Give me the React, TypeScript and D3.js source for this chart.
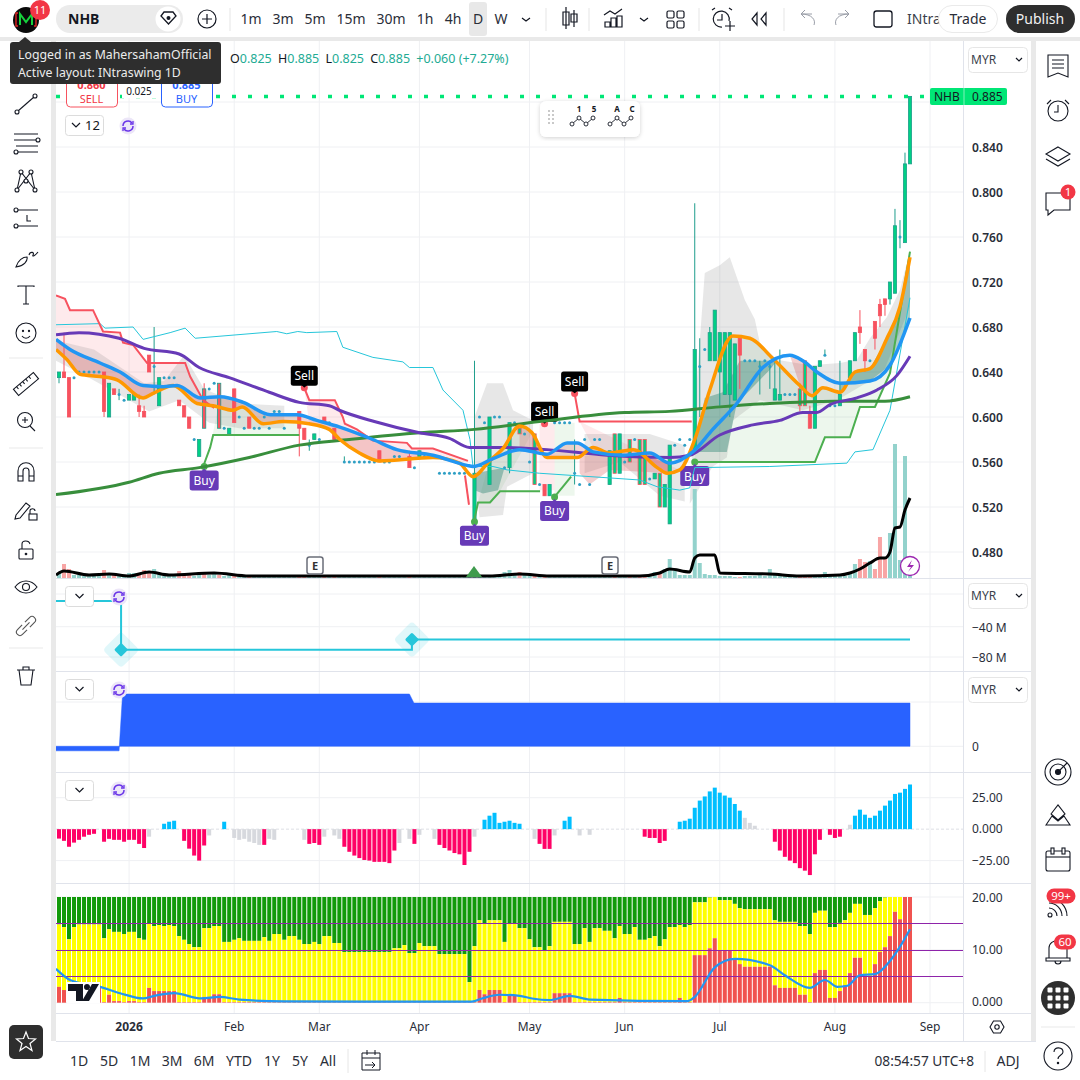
import * as d3 from 'd3';

// candles: [bar, open, high, low, close]
const bars: number[][] = [
  [0, 0.635, 0.64, 0.63, 0.64], [1, 0.64, 0.675, 0.635, 0.635], [2, 0.635, 0.635, 0.6, 0.6],
  [9, 0.64, 0.64, 0.6, 0.605], [10, 0.6, 0.63, 0.6, 0.63], [11, 0.625, 0.625, 0.62, 0.62],
  [14, 0.615, 0.62, 0.615, 0.62], [15, 0.615, 0.62, 0.615, 0.62], [16, 0.61, 0.62, 0.6, 0.605],
  [17, 0.605, 0.61, 0.6, 0.6], [18, 0.655, 0.655, 0.64, 0.64], [20, 0.61, 0.635, 0.61, 0.635],
  [24, 0.615, 0.615, 0.61, 0.61], [25, 0.61, 0.61, 0.6, 0.6], [26, 0.6, 0.6, 0.59, 0.59],
  [28, 0.565, 0.58, 0.565, 0.58], [29, 0.625, 0.63, 0.59, 0.59], [32, 0.63, 0.63, 0.59, 0.59],
  [34, 0.585, 0.59, 0.585, 0.59], [35, 0.625, 0.625, 0.595, 0.595], [38, 0.6, 0.6, 0.59, 0.59],
  [48, 0.605, 0.605, 0.565, 0.59], [49, 0.59, 0.59, 0.58, 0.58], [51, 0.58, 0.585, 0.58, 0.585],
  [53, 0.6, 0.6, 0.595, 0.595], [55, 0.59, 0.59, 0.58, 0.58], [64, 0.57, 0.57, 0.56, 0.56],
  [70, 0.565, 0.57, 0.555, 0.555], [72, 0.565, 0.57, 0.565, 0.57], [83, 0.505, 0.65, 0.505, 0.55],
  [86, 0.54, 0.6, 0.54, 0.6], [90, 0.555, 0.595, 0.55, 0.595], [92, 0.59, 0.59, 0.585, 0.585],
  [95, 0.585, 0.585, 0.54, 0.54], [97, 0.54, 0.54, 0.53, 0.53], [98, 0.53, 0.54, 0.53, 0.54],
  [110, 0.54, 0.57, 0.54, 0.57], [111, 0.585, 0.585, 0.55, 0.55], [112, 0.55, 0.585, 0.55, 0.585],
  [114, 0.58, 0.58, 0.56, 0.56], [116, 0.58, 0.58, 0.54, 0.54], [117, 0.58, 0.58, 0.54, 0.54],
  [119, 0.545, 0.55, 0.545, 0.55], [120, 0.55, 0.55, 0.52, 0.52], [121, 0.52, 0.54, 0.52, 0.54],
  [122, 0.505, 0.575, 0.505, 0.575], [127, 0.57, 0.79, 0.57, 0.66], [130, 0.65, 0.68, 0.65, 0.675],
  [131, 0.65, 0.695, 0.65, 0.695], [132, 0.64, 0.675, 0.61, 0.675], [133, 0.62, 0.675, 0.62, 0.675],
  [134, 0.62, 0.675, 0.6, 0.675], [135, 0.615, 0.665, 0.615, 0.665], [136, 0.67, 0.67, 0.625, 0.655],
  [143, 0.615, 0.65, 0.615, 0.625], [144, 0.615, 0.66, 0.615, 0.62], [148, 0.625, 0.63, 0.605, 0.61],
  [149, 0.65, 0.65, 0.61, 0.61], [150, 0.605, 0.61, 0.59, 0.59], [151, 0.59, 0.645, 0.59, 0.645],
  [152, 0.645, 0.65, 0.645, 0.65], [156, 0.61, 0.65, 0.61, 0.62], [158, 0.635, 0.65, 0.635, 0.65],
  [159, 0.65, 0.675, 0.65, 0.675], [160, 0.68, 0.695, 0.665, 0.675], [161, 0.66, 0.66, 0.64, 0.65],
  [163, 0.685, 0.685, 0.66, 0.67], [164, 0.7, 0.705, 0.68, 0.69], [165, 0.705, 0.705, 0.69, 0.7],
  [166, 0.705, 0.72, 0.7, 0.72], [167, 0.71, 0.785, 0.71, 0.77], [169, 0.755, 0.835, 0.755, 0.825],
  [170, 0.825, 0.885, 0.825, 0.885],
];
// green body with a red edge / red body with a teal edge
const redEdged = [92, 95, 111, 114, 116, 117, 120, 148, 149];
const tealEdged = [29, 32];

// doji bars shown as small dots: [bar, close, high, low]
const dojis: number[][] = [
  [3, 0.635], [4, 0.64], [5, 0.64], [6, 0.64], [7, 0.64], [8, 0.64], [12, 0.62, 0.625, 0.615], [13, 0.615],
  [19, 0.645, 0.68, 0.62], [21, 0.635], [22, 0.635], [23, 0.635], [27, 0.58], [30, 0.625], [31, 0.63], [33, 0.59],
  [36, 0.6], [37, 0.59], [39, 0.59], [40, 0.59], [41, 0.6], [42, 0.59], [43, 0.605], [44, 0.605], [45, 0.59],
  [50, 0.575, 0.58, 0.57], [52, 0.58], [54, 0.595], [56, 0.58], [57, 0.56, 0.565, 0.56], [58, 0.56], [59, 0.56],
  [60, 0.56], [61, 0.56], [62, 0.56], [63, 0.56], [65, 0.56], [66, 0.56], [67, 0.565], [68, 0.565], [71, 0.555],
  [73, 0.565], [74, 0.565], [75, 0.565], [76, 0.55], [77, 0.55], [78, 0.55], [79, 0.55], [80, 0.55], [81, 0.55],
  [82, 0.495], [84, 0.6], [85, 0.595], [87, 0.6], [88, 0.6], [89, 0.555], [91, 0.595], [93, 0.585], [94, 0.56],
  [96, 0.54], [99, 0.595], [100, 0.595], [101, 0.595], [102, 0.595], [103, 0.55, 0.58, 0.54], [104, 0.54],
  [105, 0.58], [106, 0.54], [107, 0.58], [108, 0.58], [113, 0.56], [115, 0.58], [118, 0.545], [123, 0.575],
  [124, 0.58], [125, 0.575], [126, 0.58], [128, 0.645, 0.67, 0.6], [129, 0.66], [137, 0.65], [138, 0.65],
  [139, 0.65], [140, 0.645, 0.65, 0.62], [141, 0.65], [142, 0.645, 0.65, 0.625], [145, 0.62], [146, 0.62],
  [147, 0.62], [153, 0.655, 0.66, 0.655], [154, 0.61], [155, 0.61], [157, 0.63], [162, 0.65], [168, 0.76, 0.775, 0.75],
];

const volumes = [
  5, 14, 9, 3, 3, 2, 3, 2, 3, 8, 4, 5, 2, 2, 5, 5, 4, 8, 6, 9, 5, 2, 2, 3, 7, 3, 3, 2, 6, 6,
  3, 4, 3, 2, 3, 2, 2, 2, 2, 1, 2, 1, 2, 1, 1, 1, 1, 1, 2, 2, 1, 1, 2, 2, 1, 1, 1, 2, 1, 1,
  1, 1, 1, 1, 2, 1, 1, 1, 2, 1, 2, 1, 1, 1, 1, 1, 1, 1, 1, 1, 1, 1, 1, 1, 2, 1, 1, 1, 3, 6,
  8, 4, 6, 3, 2, 2, 2, 2, 2, 1, 1, 1, 1, 1, 1, 1, 1, 1, 1, 1, 2, 2, 1, 1, 1, 1, 1, 1, 4, 6,
  5, 9, 19, 9, 3, 3, 3, 89, 15, 4, 3, 3, 2, 2, 2, 1, 1, 2, 2, 2, 4, 2, 9, 4, 3,
  2, 1, 1, 2, 3, 2, 1, 2, 6, 3, 2, 2, 2, 5, 14, 19, 16, 17, 9, 41, 19, 45, 134, 18, 122, 4,
];
const volumeAvg: number[][] = [
  [-0.6, 3], [1, 7], [6, 3], [10, 4], [14, 2], [18, 6], [22, 3], [31, 5], [38, 2], [86, 2], [92, 4], [98, 2], [116, 2],
  [120, 5], [122, 9], [126, 6], [127, 20], [128, 23], [131, 23], [132, 5], [142, 4], [148, 2], [156, 3], [158, 5], [160, 9],
  [162, 15], [164, 20], [165, 20], [166, 26], [167, 50], [168, 51], [169, 68], [170, 80],
];

const emaSlow: number[][] = [
  [-0.6, 0.531], [14, 0.542], [20, 0.55], [28, 0.555], [38, 0.564], [48, 0.575], [58, 0.58], [72, 0.586],
  [83, 0.589], [96, 0.596], [113, 0.604], [122, 0.605], [132, 0.609], [142, 0.612], [155, 0.614], [165, 0.614], [170, 0.618],
];
const emaPurple: number[][] = [
  [-0.6, 0.673], [4, 0.675], [12, 0.67], [17, 0.661], [24, 0.656], [28, 0.644], [34, 0.635], [42, 0.622], [48, 0.613],
  [54, 0.61], [56, 0.606], [63, 0.596], [72, 0.586], [78, 0.581], [82, 0.573], [89.5, 0.573], [97.5, 0.571], [109.5, 0.566],
  [122, 0.564], [126, 0.566], [132, 0.584], [138.6, 0.593], [144, 0.597], [148.6, 0.604], [151.4, 0.604], [154, 0.611],
  [159.4, 0.617], [163.4, 0.624], [167.4, 0.637], [170, 0.654],
];
const emaBlue: number[][] = [
  [-0.6, 0.669], [2.2, 0.66], [8.2, 0.648], [12.2, 0.64], [16.8, 0.628], [20.8, 0.627], [23.6, 0.628], [28.2, 0.617],
  [32.2, 0.618], [36.8, 0.613], [42.2, 0.602], [47.5, 0.602], [51.5, 0.597], [56.1, 0.591], [62.7, 0.58], [67.5, 0.571],
  [74.7, 0.566], [81.5, 0.557], [82.7, 0.556], [86.7, 0.563], [92, 0.571], [97.5, 0.567], [101.5, 0.577], [103.5, 0.577],
  [106.7, 0.569], [112.7, 0.566], [118, 0.568], [122, 0.559], [126.6, 0.569], [130.6, 0.589], [135.4, 0.612], [140.6, 0.644],
  [146, 0.655], [148.6, 0.65], [151.4, 0.64], [156, 0.63], [162, 0.632], [166, 0.646], [170, 0.688],
];
const emaOrange: number[][] = [
  [-0.6, 0.66], [1.6, 0.651], [4.2, 0.638], [8.2, 0.636], [11.6, 0.633], [16.8, 0.617], [18.8, 0.621], [22.8, 0.628],
  [27.6, 0.612], [30.8, 0.61], [34.8, 0.606], [36.6, 0.609], [40.8, 0.594], [44.8, 0.596], [50, 0.594], [54, 0.589],
  [56.1, 0.58], [60, 0.568], [64, 0.561], [74.7, 0.564], [80, 0.559], [82.7, 0.547], [86, 0.561], [88.7, 0.572], [92, 0.592],
  [94.5, 0.586], [97.5, 0.564], [103.5, 0.564], [106.7, 0.573], [110, 0.568], [114.7, 0.571], [119.5, 0.555], [121.5, 0.55],
  [124, 0.553], [127, 0.58], [130, 0.624], [134.6, 0.672], [138, 0.67], [142.6, 0.652], [148, 0.628], [150.4, 0.619],
  [152.6, 0.626], [156, 0.622], [159, 0.64], [162, 0.643], [165.4, 0.67], [168, 0.698], [170, 0.742],
];

const redStops: number[][][] = [
  [[-0.6, 0.708], [1.2, 0.705], [2.2, 0.695], [6.8, 0.695], [8.8, 0.676], [12.2, 0.675], [12.8, 0.666], [14.8, 0.664],
    [17.6, 0.648], [25.2, 0.648], [26.2, 0.636], [28.8, 0.615], [31, 0.608]],
  [[49, 0.626], [50, 0.615], [55.1, 0.615], [56.7, 0.6], [57.1, 0.594], [59.5, 0.589], [62.7, 0.579], [69.5, 0.577],
    [70.5, 0.572], [74.7, 0.572], [81.7, 0.561]],
  [[81.1, 0.548], [81.9, 0.522]],
  [[103, 0.621], [104, 0.596], [126.4, 0.596]],
];
const greenStops: number[][][] = [
  [[28.8, 0.556], [30.2, 0.573], [30.8, 0.584], [48, 0.584]],
  [[82.9, 0.507], [83.7, 0.524], [86.1, 0.524], [88.1, 0.534], [96.1, 0.534]],
  [[99, 0.529], [102.3, 0.547]],
  [[127, 0.56], [151, 0.56], [153, 0.582], [158, 0.582], [160, 0.609], [163, 0.609], [166, 0.639], [170, 0.747]],
];
const trailBand: number[][] = [
  [-0.6, 0.682], [8.2, 0.683], [9.2, 0.679], [14.8, 0.68], [16.8, 0.669], [22.2, 0.675], [25.2, 0.679], [27.2, 0.67],
  [43.5, 0.676], [45.5, 0.674], [47.7, 0.676], [49.5, 0.675], [55.5, 0.676], [56.7, 0.662], [62.7, 0.653], [68.7, 0.649],
  [70, 0.644], [74.7, 0.644], [76.7, 0.624], [80.7, 0.606], [82.1, 0.58], [82.7, 0.556], [86.7, 0.556], [89.5, 0.553],
  [96, 0.55], [109.5, 0.546], [116, 0.544], [119.5, 0.538], [124, 0.535], [126, 0.537], [127, 0.555], [142, 0.556],
  [157.4, 0.559], [159, 0.569], [162.6, 0.571], [166, 0.606], [168.6, 0.671], [170, 0.706],
];

// cloud outlines
const grayClouds: number[][][] = [
  [[-0.6, 0.668], [7, 0.66], [17, 0.63], [21, 0.632], [25, 0.655], [29, 0.625], [36, 0.612], [45, 0.61], [45, 0.59], [36, 0.59],
    [30, 0.595], [24, 0.615], [18, 0.605], [12, 0.62], [6, 0.635], [-0.6, 0.65]],
  [[83, 0.6], [85.5, 0.63], [88.7, 0.63], [90.7, 0.606], [94.7, 0.597], [94.7, 0.55], [89.5, 0.538], [88.7, 0.513], [84, 0.511], [83, 0.55]],
  [[105, 0.585], [118, 0.585], [125, 0.575], [125, 0.525], [120, 0.53], [112, 0.56], [105, 0.55]],
  [[126.6, 0.582], [129, 0.728], [132, 0.735], [134, 0.742], [137, 0.704], [139, 0.687], [140, 0.666], [143.4, 0.651], [150, 0.646],
    [156, 0.648], [159.4, 0.651], [162, 0.67], [165.4, 0.689], [168, 0.713], [170, 0.748], [170, 0.698], [164.6, 0.639], [155.4, 0.615],
    [148.6, 0.606], [140, 0.615], [134.6, 0.597], [133.4, 0.564], [130.6, 0.556], [126, 0.523]],
];
const tealClouds: number[][][] = [
  [[126.6, 0.569], [129, 0.617], [132.6, 0.622], [136, 0.65], [143.4, 0.65], [142, 0.642], [135.4, 0.612], [133.4, 0.569]],
  [[83, 0.55], [89, 0.555], [87.7, 0.535], [84.7, 0.532], [83, 0.535]],
];
const redClouds: number[][][] = [
  [[104, 0.566], [110, 0.566], [117, 0.566], [122, 0.558], [122, 0.55], [110, 0.553], [106, 0.54], [104, 0.55]],
];
const palePink: number[][][] = [[[96, 0.595], [99, 0.595], [99, 0.535], [96, 0.535]]];
const paleGreen: number[][][] = [[[99, 0.595], [103, 0.595], [103, 0.53], [99, 0.53]]];

// signal labels: [bar, price, text]
const signals: [number, number, string][] = [
  [29, 0.556, 'Buy'], [83, 0.507, 'Buy'], [99, 0.529, 'Buy'], [127, 0.56, 'Buy'],
  [49, 0.626, 'Sell'], [97, 0.594, 'Sell'], [103, 0.621, 'Sell'],
];

const priceTicks = [0.88, 0.84, 0.8, 0.76, 0.72, 0.68, 0.64, 0.6, 0.56, 0.52, 0.48];
const priceLabels = ['0.840', '0.800', '0.760', '0.720', '0.680', '0.640', '0.600', '0.560', '0.520', '0.480'];
const monthBars = [14, 35, 52, 72, 94, 113, 132, 155, 174];
const monthLabels = ['2026', 'Feb', 'Mar', 'Apr', 'May', 'Jun', 'Jul', 'Aug', 'Sep'];

// net flow step line, millions
const flowSteps: number[][] = [[-1, -6], [12.4, -70.5], [70.5, -57], [170, -57]];
const flowMarks: number[][] = [[12.4, -70.5], [70.5, -57]];
// blue area, millions
const stockArea: number[][] = [[-1, -4.5], [12, -4.5], [12.7, 52], [70, 52], [70.9, 43], [170, 43]];

const histRed: number[][] = [
  [0, -7.5], [1, -9.3], [2, -14], [3, -10.7], [4, -8.5], [5, -6], [6, -4.5], [7, -3.7], [9, -10], [10, -7.7], [11, -8.5], [12, -8.5],
  [13, -10], [14, -8.5], [15, -8.5], [16, -11.7], [17, -15], [25, -9.3], [26, -15.5], [27, -21], [28, -25], [29, -13], [41, -12.5],
  [50, -11.7], [51, -11], [52, -12.5], [57, -14], [58, -18], [59, -21], [60, -23], [61, -24.5], [62, -25], [63, -26], [64, -26],
  [65, -26], [66, -27], [67, -17], [71, -11.7], [76, -12.5], [77, -15], [78, -17], [79, -19], [80, -20], [81, -28.5], [82, -18],
  [96, -11.7], [97, -15.7], [98, -15.7], [117, -6], [118, -7], [119, -7], [120, -11], [121, -9.3], [143, -10], [144, -17], [145, -22],
  [146, -25], [147, -27], [148, -31], [149, -33], [150, -36.5], [151, -20], [152, -8.5], [154, -4.5], [155, -7], [156, -6],
];
const histBlue: number[][] = [
  [21, 4.3], [22, 5.9], [23, 6.7], [33, 5.9], [85, 7.5], [86, 10.7], [87, 13], [88, 5], [89, 5.9], [90, 6.7], [91, 5], [92, 4.3],
  [101, 6.7], [102, 9.9], [124, 5.9], [125, 6.7], [126, 8.3], [127, 17], [128, 22.7], [129, 26], [130, 30], [131, 33], [132, 29],
  [133, 26.7], [134, 25], [135, 20], [136, 14.7], [159, 10.7], [160, 15.5], [161, 11.5], [162, 9], [163, 10.7], [164, 14.7],
  [165, 18.7], [166, 22.7], [167, 28], [168, 29], [169, 32], [170, 35.5],
];
const histGray: number[][] = [
  [18, -6], [30, -5], [35, -7], [36, -8.5], [37, -7.7], [38, -10], [39, -11], [40, -12.5], [42, -7.7], [43, -8.5], [49, -8.5], [53, -6],
  [55, -5], [56, -7.7], [68, -11], [70, -7.7], [72, -4.5], [75, -7.7], [83, -6], [95, -7.7], [99, -5], [104, -5], [106, -4.5],
  [137, 9], [138, 5], [139, 2.7], [158, 3.5],
];

const yellowTop = [
  14.8, 14.3, 12, 14.3, 14.8, 14.8, 14.8, 14.8, 14.8, 12.2, 13.9, 13.4, 13.4, 13, 13.4, 13.4, 12.2, 11.9, 14.9, 14.5, 14.7, 14.5, 14.7, 14.5,
  12.6, 11.9, 11.1, 10.5, 10.5, 14.1, 14.1, 14.5, 14.5, 11.5, 11.5, 11.9, 12.2, 11.7, 11.7, 11.7, 11.7, 12.4, 11.7, 13, 13, 11.9, 12.6, 12.6,
  11.9, 11.1, 11.1, 11.5, 11.1, 12.6, 12.6, 11.3, 11.3, 9.6, 9.6, 9.6, 9.6, 9.6, 9.6, 9.6, 9.6, 9.6, 9.6, 10.3, 10.3, 10.9, 9.4, 9.4, 11.3,
  10.7, 10.7, 10.7, 9.2, 9.2, 9.2, 9.2, 9.2, 9.2, 3.9, 10.7, 15.6, 14.9, 15.6, 15.6, 15.6, 11.5, 14.9, 14.9, 14.1, 14.1, 12,
  10.5, 10.5, 9.8, 10.7, 15.3, 15.3, 15.3, 15.3, 11.1, 11.1, 14.1, 11.5, 14.1, 14.1, 13.6, 13.6, 12.2, 14.5, 13, 13, 14.3, 11.9, 11.9, 12.2,
  12.6, 10.7, 12, 14.3, 14.3, 14.7, 14.3, 14.7, 19, 19, 19, 19.9, 20, 19.4, 19.4, 19.4, 18.7, 17.9, 17.7, 17.7, 17.7, 17.7, 17.7, 17.7, 15.6,
  15.3, 15.3, 15.3, 15.3, 14.5, 14.5, 13, 17, 17.4, 17.4, 14.3, 14.3, 15.1, 15.6, 17, 18.7, 18.7, 16.6, 16.6, 17.9, 19.2, 19.9, 20, 20, 20, 20, 20,
];
const redTop = [
  3, 2.4, 0.1, 0.3, 0.3, 0.3, 0.3, 0.3, 3, 0.1, 1.5, 0.3, 0.3, 0.1, 0.3, 0.3, 0.1, 0.1, 2.8, 2.2, 2.2, 2.2, 2.2, 2.2, 0.1, 0.1, 0.1, 0.1, 0.1,
  1.1, 1.1, 1.6, 1.6, 0.1, 0.1, 0.1, 0.1, 0.1, 0.1, 0.1, 0.1, 0.1, 0.1, 0.1, 0.1, 0.1, 0.1, 0.1, 0.1, 0.1, 0.1, 0.1, 0.1, 0.1, 0.1, 0.1, 0.1, 0.1,
  0.1, 0.1, 0.1, 0.1, 0.1, 0.1, 0.1, 0.1, 0.1, 0.1, 0.1, 0.1, 0.1, 0.1, 0.1, 0.1, 0.1, 0.1, 0.1, 0.1, 0.1, 0.1, 0.1, 0.1, 0.1, 0.1,
  2.4, 1.6, 2.4, 2.4, 2.4, 0.1, 1.3, 1.3, 0.1, 0.1, 0.1, 0.1, 0.1, 0.1, 0.1, 1.8, 1.8, 1.8, 1.8, 0.1, 0.1, 0.1, 0.1, 0.1, 0.1, 0.1, 0.1, 0.1,
  0.9, 0.1, 0.1, 0.1, 0.1, 0.1, 0.1, 0.1, 0.1, 0.1, 0.1, 0.1, 0.9, 0.1, 0.1, 9, 9, 9, 10.3, 12.2, 9.8, 9.8, 9.8, 8.3, 7.3, 6.8, 6.8, 6.8, 6.8, 6.8,
  6.8, 3.3, 2.8, 2.8, 2.8, 2.8, 1.5, 1.5, 0.1, 5.6, 6.2, 6.2, 0.9, 0.9, 2.2, 3.3, 5.6, 8.5, 8.5, 5, 5, 7.3, 9.6, 10.5, 12.6, 17.2, 15.8, 20, 20,
];
const rsiBlue: number[][] = [
  [-0.6, 6.4], [2.2, 4.3], [8.2, 3], [12.2, 1.8], [16.8, 0.8], [19, 1.3], [23, 1.8], [28.5, 0.8], [32, 1.1], [36, 0.6], [45, 0.25], [82.5, 0.2],
  [84.5, 0.8], [88, 1.5], [92, 1.3], [94.5, 0.8], [98, 0.5], [102, 1.3], [106, 0.6], [125.5, 0.3], [127, 1.1], [131, 6.7], [135, 8.3], [142, 7.1],
  [145, 5.2], [150, 2.8], [153, 4.3], [155.5, 3], [157.5, 3.2], [160, 5.2], [163, 5.4], [166, 7.9], [168, 10.6], [170, 13.9],
];
const zoneLevels = [5, 10, 15];

const rangeButtons = ['1D', '5D', '1M', '3M', '6M', 'YTD', '1Y', '5Y', 'All'];
const intervalButtons = ['1m', '3m', '5m', '15m', '30m', '1h', '4h', 'D', 'W'];

const FONT = '"Noto Sans", sans-serif';
const GRID = '#eff0f3';
const EDGE = '#e0e3eb';
const INK = '#131722';
const TEAL = '#22ab94';

const x = d3.scaleLinear().domain([0, 170]).range([59, 910]);
const yPrice = d3.scaleLinear().domain([0.48, 0.84]).range([552, 147]);
const yVol = d3.scaleLinear().domain([0, 134]).range([578, 444]);
const yFlow = d3.scaleLinear().domain([-80, -40]).range([657, 626.7]);
const yStock = d3.scaleLinear().domain([0, 52]).range([746.3, 694]);
const yHist = d3.scaleLinear().domain([-25, 25]).range([860.6, 797.7]);
const yZone = d3.scaleLinear().domain([0, 20]).range([1002.7, 897]);

const priceLine = d3.line<number[]>().x((d) => x(d[0])).y((d) => yPrice(d[1]));
const smoothPrice = d3.line<number[]>().x((d) => x(d[0])).y((d) => yPrice(d[1])).curve(d3.curveMonotoneX);
const volLine = d3.line<number[]>().x((d) => x(d[0])).y((d) => yVol(d[1])).curve(d3.curveMonotoneX);
const flowLine = d3.line<number[]>().x((d) => x(d[0])).y((d) => yFlow(d[1])).curve(d3.curveStepAfter);
const stockShape = d3.area<number[]>().x((d) => x(d[0])).y0(yStock(0)).y1((d) => yStock(d[1]));
const zoneLine = d3.line<number[]>().x((d) => x(d[0])).y((d) => yZone(d[1])).curve(d3.curveMonotoneX);

// area between two knot lists over a bar range
function band(top: number[][], bottom: number[][], from: number, to: number) {
  const a = top.filter((d) => d[0] >= from && d[0] <= to);
  const b = bottom.filter((d) => d[0] >= from && d[0] <= to).reverse();
  return priceLine([...a, ...b]) + 'Z';
}

function Chevron({ cx, cy }: { cx: number; cy: number }) {
  return <path d={`M${cx - 4} ${cy - 2}l4 4l4 -4`} fill="none" stroke={INK} strokeWidth={1.2} />;
}

function Sync({ cx, cy }: { cx: number; cy: number }) {
  return (
    <g>
      <circle cx={cx} cy={cy} r={8.5} fill="#ece6f8" />
      <path d={`M${cx - 5} ${cy}a5 5 0 0 1 9 -3M${cx + 5} ${cy}a5 5 0 0 1 -9 3`} fill="none" stroke="#6a35e8" strokeWidth={1.5} />
      <path d={`M${cx + 5} ${cy - 5}v3h-3M${cx - 5} ${cy + 5}v-3h3`} fill="none" stroke="#6a35e8" strokeWidth={1.3} />
    </g>
  );
}

function SmallButton({ y, label }: { y: number; label?: string }) {
  const w = label ? 38 : 28;
  return (
    <g>
      <rect x={65.5} y={y + 0.5} width={w} height={20} rx={3} fill="#fff" stroke="#dcdcdc" />
      <Chevron cx={label ? 76 : 79.5} cy={y + 10} />
      {label && <text x={85} y={y + 15} fontSize={13} fill={INK}>{label}</text>}
    </g>
  );
}

function CurrencyBox({ y }: { y: number }) {
  return (
    <g>
      <rect x={968.5} y={y + 0.5} width={59} height={25} rx={4} fill="#fff" stroke="#e6e6e6" />
      <text x={971} y={y + 17} fontSize={12} fill="#3a3f4c">MYR</text>
      <path d={`M1016 ${y + 11}l3 3l3 -3`} fill="none" stroke={INK} strokeWidth={1.2} />
    </g>
  );
}

function LeftTools() {
  const s = { fill: 'none', stroke: INK, strokeWidth: 1.1 };
  return (
    <g {...s}>
      <g transform="translate(26,104)"><path d="M-8 7L8 -7" /><circle cx={-9} cy={8} r={2} fill="#fff" /><circle cx={9} cy={-8} r={2} fill="#fff" /></g>
      <g transform="translate(26,143)"><path d="M-12 -9H12M-12 -3H10M-10 3H12M-8 9H12" /><circle cx={12} cy={-3} r={2} fill="#fff" /><circle cx={-10} cy={9} r={2} fill="#fff" /></g>
      <g transform="translate(26,181)"><path d="M-9 9L-5 -9L9 9L5 -9L-9 9" /><circle cx={-9} cy={9} r={2} fill="#fff" /><circle cx={-5} cy={-9} r={2} fill="#fff" /><circle cx={5} cy={-9} r={2} fill="#fff" /><circle cx={9} cy={9} r={2} fill="#fff" /><circle cx={0} cy={0} r={2} fill="#fff" /></g>
      <g transform="translate(26,219)"><path d="M-8 -9H12M-8 7H12M-12 7H-10M1 -4V2H5" /><circle cx={-10} cy={-9} r={2} fill="#fff" /><circle cx={-10} cy={7} r={2} fill="#fff" /></g>
      <g transform="translate(26,258)"><path d="M-10 9C-8 2 -3 -1 1 -1C2 3 -2 8 -10 9ZM3 -3C4 -7 9 -6 7 -3C6 -1 9 -2 12 -6" /></g>
      <g transform="translate(26,295)"><path d="M-8 -8V-9H8V-8M0 -9V9M-3 9H3" /></g>
      <g transform="translate(26,333)"><circle r={10} /><path d="M-4 3C-2 6 2 6 4 3" /><circle cx={-3} cy={-2} r={0.6} /><circle cx={3} cy={-2} r={0.6} /></g>
      <path d="M9 358H43M9 448H43M9 648H43" stroke="#eaeaea" />
      <g transform="translate(26,384) rotate(-40)"><rect x={-13} y={-4} width={26} height={8} /><path d="M-9 -4v3M-5 -4v3M-1 -4v3M3 -4v3M7 -4v3" /></g>
      <g transform="translate(26,421)"><circle cx={-1} cy={-1} r={7.5} /><path d="M4 5L9 10M-4 -1H2M-1 -4V2" /></g>
      <g transform="translate(26,472)"><path d="M-8 9V-1C-8 -12 8 -12 8 -1V9H3V-1C3 -5 -3 -5 -3 -1V9ZM-8 4H-3M3 4H8" /></g>
      <g transform="translate(26,511)"><path d="M-10 4L0 -8L4 -5L-6 7L-11 8Z" /><rect x={3} y={3} width={8} height={6} /><path d="M4 3V0C4 -3 9 -3 9 0" /></g>
      <g transform="translate(26,549)"><rect x={-7} y={0} width={14} height={10} rx={1} /><path d="M-4 0V-5C-4 -9 3 -9 4 -5" /><circle cy={5} r={0.8} fill={INK} /></g>
      <g transform="translate(26,587)"><path d="M-11 0C-5 -8 5 -8 11 0C5 8 -5 8 -11 0Z" /><circle r={3.5} /></g>
      <g transform="translate(26,626) rotate(-45)" stroke="#555"><path d="M-2 -3.500H-8.500A3.500 3.500 0 0 0 -8.500 3.500H-2M2 -3.500H8.500A3.500 3.500 0 0 1 8.500 3.500H2M-5 0H5" /></g>
      <g transform="translate(26,676)"><path d="M-9 -6H9M-7 -6L-5 9H5L7 -6M-3 -6V-9H3V-6" /></g>
    </g>
  );
}

function RightTools() {
  const s = { fill: 'none', stroke: INK, strokeWidth: 1.1 };
  return (
    <g {...s}>
      <g transform="translate(1058,66)"><path d="M-10 -11H10V11L0 7L-10 11ZM-6 -6H6M-6 -2H6M-6 2H6" /></g>
      <g transform="translate(1058,111)"><circle r={10} /><path d="M0 -6V1H-4M-11 -7L-7 -11M11 -7L7 -11" /></g>
      <g transform="translate(1058,157)"><path d="M0 -10L12 -3L0 4L-12 -3ZM-12 2L0 9L12 2" /></g>
      <g transform="translate(1058,203)"><path d="M-12 -10H12V7H-4L-10 12V7H-12Z" /></g>
      <g transform="translate(1058,772)"><circle r={13} /><circle r={8} /><circle r={2.5} fill={INK} /><path d="M0 0L9 -9" /></g>
      <g transform="translate(1058,816)"><path d="M-12 9L-6 0L0 5L6 0L12 9ZM-7 -2L0 -11L7 -2L0 4Z" /></g>
      <g transform="translate(1058,860)"><rect x={-12} y={-9} width={24} height={20} rx={2} /><path d="M-12 -3H12" /><rect x={-7} y={-12} width={3} height={6} fill="#fff" /><rect x={4} y={-12} width={3} height={6} fill="#fff" /></g>
      <g transform="translate(1050,908)"><circle cx={0} cy={7} r={2} /><path d="M-1 0A8 8 0 0 1 7 8M-1 -5A13 13 0 0 1 12 8M-1 -10A18 18 0 0 1 17 8" /></g>
      <g transform="translate(1058,952)"><path d="M-9 6V-4C-9 -14 9 -14 9 -4V6M-12 6H12V9H-12ZM-3 9C-3 13 3 13 3 9" /></g>
      <g transform="translate(1058,1056)"><circle r={14} /><path d="M-4 -4C-4 -10 5 -9 5 -4C5 -1 0 -1 0 3" /><circle cy={7} r={0.7} /></g>
      <path d="M1041 1027H1075" stroke="#eaeaea" />
    </g>
  );
}

function Badge({ cx, cy, label, w }: { cx: number; cy: number; label: string; w: number }) {
  return (
    <g>
      <rect x={cx - w / 2} y={cy - 7.5} width={w} height={15} rx={7.5} fill="#f23645" />
      <text x={cx} y={cy + 4} fontSize={11.5} fill="#fff" textAnchor="middle">{label}</text>
    </g>
  );
}

function TopBar() {
  const centers = [251, 283, 315, 351, 391, 425, 453, 478, 501];
  return (
    <g>
      <rect width={1080} height={37} fill="#fff" />
      <circle cx={26} cy={20} r={13} fill="#0a0a0a" />
      <path d="M20 25V14L26 22L32 14V25" fill="none" stroke="#16d13c" strokeWidth={2} />
      <path d="M18 13H16V26H18M34 13H36V26H34" fill="none" stroke="#e02424" strokeWidth={1.4} />
      <circle cx={40} cy={10} r={10} fill="#f23645" />
      <text x={40} y={14} fontSize={11} fill="#fff" textAnchor="middle">11</text>
      <rect x={56} y={5} width={127} height={28} rx={14} fill="#ebebeb" />
      <text x={68} y={24} fontSize={14} fontWeight={700} fill={INK}>NHB</text>
      <circle cx={168} cy={19} r={12.5} fill="#fff" />
      <path d="M161 16l3 -4h9l3 4l-7.500 8z" fill="none" stroke={INK} strokeWidth={1.3} />
      <circle cx={168.500} cy={18} r={2} fill={INK} />
      <circle cx={207} cy={19} r={9} fill="none" stroke={INK} strokeWidth={1.2} />
      <path d="M202 19H212M207 14V24" stroke={INK} strokeWidth={1.2} />
      <path d="M230 8V31M546 8V31M589 8V31M699 8V31M784 8V31" stroke="#e5e5e5" />
      <rect x={469} y={2} width={18} height={34} rx={3} fill="#e8e8e8" />
      {intervalButtons.map((t, i) => (
        <text key={t} x={centers[i]} y={24} fontSize={14} fill="#2a2e39" textAnchor="middle">{t}</text>
      ))}
      <path d="M522 18l4 3l4 -3M640 18l4 3l4 -3" fill="none" stroke={INK} strokeWidth={1.2} />
      <g fill="none" stroke={INK} strokeWidth={1.2}>
        <path d="M566 7V29M574 10V27M563 12h6v13h-6zM571 14h6v8h-6z" />
        <path d="M605 27V22h5v5zM611 27V18h5v9zM617 27V16h5v11zM604 15l6 -4l5 3l7 -5" />
        <rect x={667} y={11} width={7} height={7} rx={1.500} /><rect x={677} y={11} width={7} height={7} rx={1.500} />
        <rect x={667} y={21} width={7} height={7} rx={1.500} /><rect x={677} y={21} width={7} height={7} rx={1.500} />
        <path d="M729 21A8 8 0 1 0 722 27M722 14V20H717M725 26H735M730 21V31M712 10l3 -2M729 8l3 2" />
        <path d="M757 13l-5 6l5 6zM766 13l-5 6l5 6z" />
        <rect x={874} y={11} width={18} height={16} rx={2.500} strokeWidth={1.300} />
      </g>
      <path d="M812 14h-11l4 -4M801 14l4 4M801 14C812 14 816 20 814 25" fill="none" stroke="#9a9ea8" strokeWidth={1} />
      <path d="M838 14h11l-4 -4M849 14l-4 4M849 14C838 14 834 20 836 25" fill="none" stroke="#9a9ea8" strokeWidth={1} />
      <text x={907} y={24} fontSize={14} fill="#3a3f4c">INtra</text>
      <rect x={938.500} y={5.500} width={59} height={27} rx={13.500} fill="#fff" stroke="#eaeaea" />
      <text x={968} y={24} fontSize={14} fill="#2a2e39" textAnchor="middle">Trade</text>
      <rect x={1006} y={5} width={69} height={28} rx={14} fill="#2e2e2e" />
      <text x={1040} y={24} fontSize={14} fill="#f2f2f2" textAnchor="middle">Publish</text>
    </g>
  );
}

export default function App() {
  const lastClose = 0.885;
  const isDown = new Set(bars.filter((b) => b[4] < b[1]).map((b) => b[0]));
  return (
    <svg width={1080} height={1080} style={{ position: 'absolute', left: 0, top: 0 }} fontFamily={FONT}>
      <defs>
        <clipPath id="main"><rect x={56} y={41} width={907} height={537} /></clipPath>
        <clipPath id="lower"><rect x={56} y={578} width={907} height={435} /></clipPath>
        <filter id="soft"><feDropShadow dx={0} dy={1} stdDeviation={2} floodOpacity={0.18} /></filter>
      </defs>
      <rect width={1080} height={1080} fill="#e9e9e9" />
      <rect y={41} width={51} height={1039} fill="#fff" />
      <rect x={56} y={41} width={975} height={1000} fill="#fff" />
      <rect x={1036} y={41} width={44} height={1039} fill="#fff" />
      <rect y={1041} width={1036} height={39} fill="#fff" />

      {/* grids */}
      <g stroke={GRID}>
        {monthBars.map((m) => <line key={m} x1={x(m)} x2={x(m)} y1={41} y2={1013} />)}
        {priceTicks.map((p) => <line key={p} x1={56} x2={963} y1={yPrice(p)} y2={yPrice(p)} />)}
        {[594, 626.7, 657, 702, 746.3, 797.7, 860.6, 897, 949.8, 1002.7].map((v) => <line key={v} x1={56} x2={963} y1={v} y2={v} />)}
      </g>

      {/* main pane */}
      <g clipPath="url(#main)">
        <path d={band(redStops[0], emaOrange, -0.6, 31)} fill="rgba(247,82,95,0.12)" />
        <path d={band(redStops[1], emaOrange, 49, 82)} fill="rgba(247,82,95,0.12)" />
        <path d={band(redStops[3], emaOrange, 104, 126)} fill="rgba(247,82,95,0.12)" />
        {palePink.map((d, i) => <path key={i} d={priceLine(d) + 'Z'} fill="rgba(247,82,95,0.12)" />)}
        <path d={band(emaBlue, greenStops[0], 29, 48)} fill="rgba(76,175,80,0.1)" />
        <path d={band(emaOrange, greenStops[1], 83, 96)} fill="rgba(76,175,80,0.1)" />
        <path d={band(emaOrange, greenStops[3], 127, 170)} fill="rgba(76,175,80,0.1)" />
        {paleGreen.map((d, i) => <path key={i} d={priceLine(d) + 'Z'} fill="rgba(76,175,80,0.1)" />)}
        {grayClouds.map((d, i) => <path key={i} d={priceLine(d) + 'Z'} fill="rgba(120,120,120,0.18)" />)}
        <path d={band(emaBlue, emaOrange, -0.6, 82)} fill="rgba(214,80,80,0.24)" />
        <path d={band(emaBlue, emaOrange, 92, 122)} fill="rgba(214,80,80,0.24)" />
        <path d={band(emaBlue, emaOrange, 143, 152)} fill="rgba(214,80,80,0.28)" />
        {redClouds.map((d, i) => <path key={i} d={priceLine(d) + 'Z'} fill="rgba(214,80,80,0.28)" />)}
        {tealClouds.map((d, i) => <path key={i} d={priceLine(d) + 'Z'} fill="rgba(20,120,100,0.36)" />)}
        <path d={band(emaOrange, emaBlue, 156, 170)} fill="rgba(20,120,100,0.36)" />

        {/* volume */}
        {volumes.map((v, i) => (
          <rect key={i} x={x(i) - 2} width={4} y={yVol(v)} height={yVol(0) - yVol(v)} fill={isDown.has(i) ? '#f8a5a5' : '#93d2cc'} />
        ))}

        <line x1={56} x2={930} y1={yPrice(lastClose)} y2={yPrice(lastClose)} stroke="#00e676" strokeWidth={3.5} strokeDasharray="4 12" />

        {/* candles */}
        {bars.map(([i, o, h, l, c]) => {
          const up = c >= o;
          const edge = redEdged.includes(i) ? '#f7525f' : tealEdged.includes(i) ? '#1f9e8c' : up ? '#1f9e8c' : '#f7525f';
          const fill = redEdged.includes(i) ? '#00d084' : up ? '#00d084' : '#f7525f';
          const top = yPrice(Math.max(o, c));
          const bot = yPrice(Math.min(o, c));
          return (
            <g key={i}>
              <line x1={x(i)} x2={x(i)} y1={yPrice(h)} y2={yPrice(l)} stroke={up ? '#1f9e8c' : '#f7525f'} strokeWidth={1} />
              <rect x={x(i) - 1.6} width={3.200} y={top} height={bot - top} fill={fill} stroke={edge} strokeWidth={0.8} />
            </g>
          );
        })}
        {dojis.map(([i, c, h, l]) => (
          <g key={i}>
            {h !== undefined && <line x1={x(i)} x2={x(i)} y1={yPrice(h)} y2={yPrice(l)} stroke="#1f9e8c" strokeWidth={1} />}
            <circle cx={x(i)} cy={yPrice(c)} r={1.5} fill="#2e9fc4" />
          </g>
        ))}

        {/* signal labels */}
        {signals.map(([i, p, t]) => {
          const buy = t === 'Buy';
          const w = buy ? 29 : 27;
          const cy = yPrice(p) + (buy ? 14 : -12);
          return (
            <g key={`${i}${t}`}>
              <circle cx={x(i)} cy={yPrice(p)} r={3.500} fill={buy ? '#4caf50' : '#f7525f'} />
              <path d={buy ? `M${x(i) - 3} ${cy - 9}L${x(i)} ${cy - 12}L${x(i) + 3} ${cy - 9}Z` : `M${x(i) - 3} ${cy + 9}L${x(i)} ${cy + 12}L${x(i) + 3} ${cy + 9}Z`} fill={buy ? '#673ab7' : '#000'} />
              <rect x={x(i) - w / 2} y={cy - 10} width={w} height={20} rx={2.500} fill={buy ? '#673ab7' : '#000'} />
              <text x={x(i)} y={cy + 4.500} fontSize={12} fill="#fff" textAnchor="middle">{t}</text>
            </g>
          );
        })}

        {/* lines */}
        <path d={priceLine(trailBand) ?? ''} fill="none" stroke="#26c6da" strokeWidth={1} />
        {redStops.map((d, i) => <path key={i} d={priceLine(d) ?? ''} fill="none" stroke="#f7525f" strokeWidth={2} />)}
        {greenStops.map((d, i) => <path key={i} d={priceLine(d) ?? ''} fill="none" stroke="#4caf50" strokeWidth={2} />)}
        <path d={smoothPrice(emaSlow) ?? ''} fill="none" stroke="#388e3c" strokeWidth={3} />
        <path d={smoothPrice(emaPurple) ?? ''} fill="none" stroke="#673ab7" strokeWidth={3} />
        <path d={smoothPrice(emaOrange) ?? ''} fill="none" stroke="#ff9800" strokeWidth={3.500} />
        <path d={smoothPrice(emaBlue) ?? ''} fill="none" stroke="#2196f3" strokeWidth={3.500} />
        <path d={volLine(volumeAvg) ?? ''} fill="none" stroke="#000" strokeWidth={3} />

        {/* event flags */}
        {[315, 610].map((v) => (
          <g key={v}>
            <rect x={v - 8} y={557} width={16} height={17} rx={2.500} fill="#fff" stroke="#6a6d78" strokeWidth={1.500} />
            <text x={v} y={570} fontSize={11} fontWeight={700} fill="#333" textAnchor="middle">E</text>
          </g>
        ))}
        <path d="M466 577L474 566L482 577Z" fill="#3f9b4d" />
        <circle cx={910} cy={566} r={9.500} fill="#fff" stroke="#9c27b0" strokeWidth={1.300} />
        <path d="M912 560L907 567H911L908 572L914 565H910Z" fill="#9c27b0" />
      </g>

      {/* flow pane */}
      <g clipPath="url(#lower)">
        <path d={flowLine(flowSteps) ?? ''} fill="none" stroke="#26c6da" strokeWidth={2} />
        {flowMarks.map(([i, v]) => (
          <g key={i} transform={`translate(${x(i)},${yFlow(v)}) rotate(45)`}>
            <rect x={-13} y={-13} width={26} height={26} rx={4} fill="rgba(38,198,218,0.14)" />
            <rect x={-5} y={-5} width={10} height={10} rx={1.500} fill="#26c6da" />
          </g>
        ))}
        <path d={stockShape(stockArea) ?? ''} fill="#2962ff" stroke="#2962ff" strokeWidth={0.5} />

        {/* histogram */}
        <line x1={56} x2={963} y1={yHist(0)} y2={yHist(0)} stroke="#dddfe5" strokeDasharray="3 2" />
        {[{ d: histRed, c: '#ff0266' }, { d: histBlue, c: '#00bfff' }, { d: histGray, c: '#d7d9de' }].map(({ d, c }) =>
          d.map(([i, v]) => (
            <rect key={`${c}${i}`} x={x(i) - 2} width={4} y={Math.min(yHist(v), yHist(0))} height={Math.abs(yHist(v) - yHist(0))} fill={c} />
          )),
        )}

        {/* zone stack */}
        {yellowTop.map((v, i) => (
          <g key={i}>
            <rect x={x(i) - 2} width={4} y={yZone(20)} height={yZone(v) - yZone(20)} fill="#129a0a" />
            <rect x={x(i) - 2} width={4} y={yZone(v)} height={yZone(redTop[i]) - yZone(v)} fill="#ffff00" />
            <rect x={x(i) - 2} width={4} y={yZone(redTop[i])} height={yZone(0) - yZone(redTop[i])} fill="#f05350" />
          </g>
        ))}
        {zoneLevels.map((v) => <line key={v} x1={56} x2={963} y1={Math.round(yZone(v)) + 0.5} y2={Math.round(yZone(v)) + 0.5} stroke="#8e24aa" strokeWidth={1} />)}
        <path d={zoneLine(rsiBlue) ?? ''} fill="none" stroke="#2196f3" strokeWidth={2.200} />
        <rect x={67} y={982} width={33} height={21} fill="#fff" />
        <path d="M68 984H83V1001H76V991H68ZM92 984H99L89 1001H82ZM84 987a3 3 0 1 0 6 0a3 3 0 1 0 -6 0" fill="#131722" />
      </g>

      {/* pane borders */}
      <g stroke={EDGE}>
        <path d="M56 578.500H1031M56 671.500H1031M56 772.500H1031M56 883.500H1031M56 1013.500H1031M963.500 41V1041" />
        <path d="M56 1041.500H1036" />
      </g>

      {/* price axis */}
      {priceLabels.map((t) => (
        <text key={t} x={972} y={yPrice(+t) + 4.500} fontSize={12} fontWeight={600} fill="#2a2e39">{t}</text>
      ))}
      {[['\u221240 M', 627], ['\u221280 M', 657], ['0', 746]].map(([t, v]) => (
        <text key={t} x={972} y={Number(v) + 4.500} fontSize={12} fill="#2a2e39">{t}</text>
      ))}
      {[['25.00', 797.7], ['0.000', 828.3], ['\u221225.00', 860.6], ['20.00', 897.5], ['10.00', 949.8], ['0.000', 1001.5]].map(([t, v]) => (
        <text key={`${t}${v}`} x={972} y={Number(v) + 4.500} fontSize={12} fill="#2a2e39">{t}</text>
      ))}
      <CurrencyBox y={47} />
      <CurrencyBox y={583} />
      <CurrencyBox y={677} />

      <rect x={930} y={88} width={77} height={17} rx={2} fill="#00e676" />
      <line x1={964} x2={964} y1={88} y2={105} stroke="#fff" strokeOpacity={0.5} />
      <text x={934} y={101} fontSize={12} fill="#131722">NHB</text>
      <text x={972} y={101} fontSize={12} fill="#131722">0.885</text>

      {/* time axis */}
      {monthLabels.map((t, i) => (
        <text key={t} x={x(monthBars[i])} y={1031} fontSize={12} fontWeight={i === 0 ? 700 : 400} fill="#2a2e39" textAnchor="middle">{t}</text>
      ))}
      <path d="M990 1027l3.500 -6h7l3.500 6l-3.500 6h-7z" fill="none" stroke={INK} strokeWidth={1.100} />
      <circle cx={997} cy={1027} r={2.200} fill="none" stroke={INK} strokeWidth={1.100} />

      {/* legend and overlays */}
      <g fontSize={12.500}>
        <text x={230} y={63}>
          <tspan fill={INK}>O</tspan><tspan fill={TEAL}>0.825 </tspan>
          <tspan fill={INK} dx={3}>H</tspan><tspan fill={TEAL}>0.885 </tspan>
          <tspan fill={INK} dx={3}>L</tspan><tspan fill={TEAL}>0.825 </tspan>
          <tspan fill={INK} dx={3}>C</tspan><tspan fill={TEAL}>0.885 </tspan>
          <tspan fill={TEAL} dx={3}>+0.060 (+7.27%)</tspan>
        </text>
      </g>
      <rect x={66.500} y={70} width={51} height={37} rx={4} fill="#fff" stroke="#f7525f" />
      <text x={91.500} y={89} fontSize={11} fontWeight={700} fill="#f23645" textAnchor="middle">0.860</text>
      <text x={91.500} y={103} fontSize={11} fill="#f23645" textAnchor="middle">SELL</text>
      <rect x={161.500} y={70} width={51} height={37} rx={4} fill="#fff" stroke="#2962ff" />
      <text x={186.500} y={89} fontSize={11} fontWeight={700} fill="#2962ff" textAnchor="middle">0.885</text>
      <text x={186.500} y={103} fontSize={11} fill="#2962ff" textAnchor="middle">BUY</text>
      <rect x={122} y={84} width={34} height={14} fill="#fff" />
      <text x={139} y={95} fontSize={10} fill="#131722" textAnchor="middle">0.025</text>

      <SmallButton y={115} label="12" />
      <Sync cx={128} cy={126} />
      <SmallButton y={586} />
      <Sync cx={119} cy={597} />
      <SmallButton y={679} />
      <Sync cx={119} cy={690} />
      <SmallButton y={780} />
      <Sync cx={119} cy={790} />

      <rect x={540} y={101} width={100} height={36} rx={6} fill="#fff" filter="url(#soft)" />
      <g fill="#c9c9c9">
        {[548, 552].map((a) => [110, 114, 118, 122].map((b) => <rect key={`${a}${b}`} x={a} y={b} width={2} height={2} />))}
      </g>
      <g fill="none" stroke={INK} strokeWidth={0.9}>
        <path d="M572 124l7 -6l7 6l7 -6M610 124l7 -6l7 6l7 -6" />
        {[572, 579, 586, 593, 610, 617, 624, 631].map((a, i) => (
          <circle key={a} cx={a} cy={i % 2 ? 118 : 124} r={2} fill="#fff" />
        ))}
      </g>
      <g fontSize={8} fontWeight={700} fill={INK} textAnchor="middle">
        <text x={579} y={112}>1</text><text x={594} y={112}>5</text><text x={617} y={112}>A</text><text x={632} y={112}>C</text>
      </g>

      <TopBar />
      <LeftTools />
      <RightTools />
      <Badge cx={1068} cy={192} label="1" w={15} />
      <Badge cx={1061} cy={896} label="99+" w={29} />
      <Badge cx={1065} cy={942} label="60" w={22} />
      <circle cx={1058} cy={998} r={17} fill="#2e2e2e" />
      <g fill="#fff">
        {[-8, 0, 8].map((a) => [-8, 0, 8].map((b) => <rect key={`${a}${b}`} x={1058 + a - 2.500} y={998 + b - 2.500} width={5} height={5} rx={1} />))}
      </g>

      <path d="M25 37l-6 5h12z" fill="#2e2e2e" />
      <rect x={10} y={42} width={211} height={42} rx={3} fill="#2e2e2e" />
      <text x={18} y={59} fontSize={12.300} fill="#ececec">Logged in as MahersahamOfficial</text>
      <text x={18} y={77} fontSize={12.300} fill="#ececec">Active layout: INtraswing 1D</text>

      <rect x={9} y={1025} width={34} height={34} rx={5} fill="#2e2e2e" />
      <path d="M26 1032l2.500 6.500l7 .5l-5.500 4.500l2 7l-6 -4l-6 4l2 -7l-5.500 -4.500l7 -.5z" fill="none" stroke="#fff" strokeWidth={1.200} />

      {/* bottom bar */}
      {rangeButtons.map((t, i) => (
        <text key={t} x={[79, 109, 140, 172, 204, 239, 272, 300, 328][i]} y={1066} fontSize={14} fill="#2a2e39" textAnchor="middle">{t}</text>
      ))}
      <path d="M362 1053h18v17h-18zM362 1058h18M367 1050v5M375 1050v5M365 1065h10l-3 -3M375 1065l-3 3" fill="none" stroke={INK} strokeWidth={1} />
      <path d="M348 1049V1073" stroke="#e6e6e6" />
      <text x={974} y={1066} fontSize={13.700} fill="#2a2e39" textAnchor="end">08:54:57 UTC+8</text>
      <path d="M985 1051V1072" stroke="#e6e6e6" />
      <text x={1008} y={1066} fontSize={14} fill="#2a2e39" textAnchor="middle">ADJ</text>
    </svg>
  );
}
